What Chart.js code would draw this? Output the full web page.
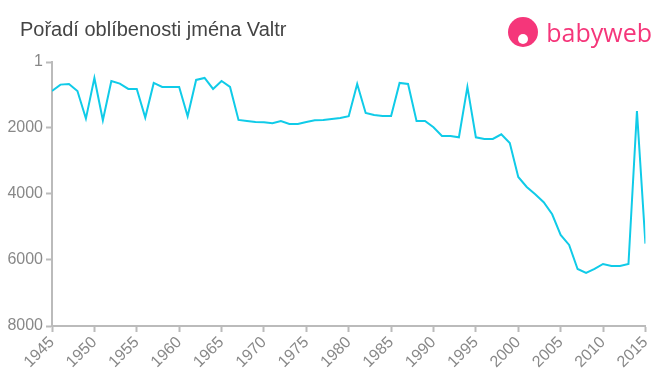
<!DOCTYPE html>
<html>
<head>
<meta charset="utf-8">
<script src="https://cdn.jsdelivr.net/npm/chart.js@4/dist/chart.umd.min.js"></script>
<style>
  body { margin: 0; background: #fff; }
  #wrap { position: relative; width: 660px; height: 375px; }
  #title { position: absolute; left: 20px; top: 18px; font: 20px "Liberation Sans", Arial, sans-serif; color: #444; }
  #logo { position: absolute; right: 8px; top: 15px; display: flex; align-items: center; color: #f5367a; font: 25px "Open Sans", "Liberation Sans", sans-serif; }
  #logo .ico { width: 30px; height: 30px; border-radius: 50%; background: #f5367a; margin-right: 8px; position: relative; }
  #logo .ico::after { content: ""; position: absolute; left: 10px; top: 17px; width: 10px; height: 10px; border-radius: 50%; background: #fff; }
</style>
</head>
<body>
<div id="wrap">
  <canvas id="myChart" width="660" height="375"></canvas>
  <div id="title">Pořadí oblíbenosti jména Valtr</div>
  <div id="logo"><span class="ico"></span>babyweb</div>
</div>
<script>
// years and rank of the name
const years = [1945, 1946, 1947, 1948, 1949, 1950, 1951, 1952, 1953, 1954,
  1955, 1956, 1957, 1958, 1959, 1960, 1961, 1962, 1963, 1964,
  1965, 1966, 1967, 1968, 1969, 1970, 1971, 1972, 1973, 1974,
  1975, 1976, 1977, 1978, 1979, 1980, 1981, 1982, 1983, 1984,
  1985, 1986, 1987, 1988, 1989, 1990, 1991, 1992, 1993, 1994,
  1995, 1996, 1997, 1998, 1999, 2000, 2001, 2002, 2003, 2004,
  2005, 2006, 2007, 2008, 2009, 2010, 2011, 2012, 2013, 2014, 2015];
const ranks = [880, 686, 665, 880, 1716, 485, 1766, 575, 655, 818,
  818, 1685, 636, 757, 757, 757, 1645, 545, 485, 818,
  575, 757, 1757, 1787, 1818, 1828, 1858, 1787, 1878, 1878,
  1818, 1767, 1757, 1727, 1696, 1645, 666, 1545, 1605, 1635,
  1635, 636, 666, 1787, 1787, 1979, 2242, 2242, 2282, 757,
  2282, 2333, 2333, 2191, 2454, 3484, 3787, 4009, 4251, 4615,
  5241, 5545, 6272, 6393, 6272, 6120, 6181, 6181, 6120, 1484, 5503];
const yTicks = [1, 2000, 4000, 6000, 8000];

const points = years.map((yr, i) => ({ x: yr, y: ranks[i] }));
const axisColor = '#bbbbbb';
const tickFont = { family: '"Liberation Sans", Arial, sans-serif', size: 16 };

const ctx = document.getElementById('myChart').getContext('2d');
let myChart = new Chart(ctx, {
  type: 'line',
  data: {
    datasets: [{
      data: points,
      borderColor: '#10cbe8',
      borderWidth: 2,
      pointRadius: 0,
      tension: 0,
      fill: false
    }]
  },
  options: {
    responsive: false,
    animation: false,
    layout: { padding: { top: 62, right: 14, left: 0, bottom: 0 } },
    plugins: { legend: { display: false }, tooltip: { enabled: false } },
    scales: {
      x: {
        type: 'linear',
        min: 1945,
        max: 2015,
        ticks: {
          stepSize: 5,
          minRotation: 45,
          maxRotation: 45,
          color: '#888',
          font: tickFont,
          padding: 1,
          callback: v => String(v)
        },
        grid: { display: true, drawOnChartArea: false, tickLength: 6, tickColor: axisColor, tickWidth: 2 },
        border: { color: axisColor, width: 2 },
        afterFit: s => { s.height = 49; }
      },
      y: {
        reverse: true,
        min: 1,
        max: 8000,
        afterBuildTicks: s => { s.ticks = yTicks.map(v => ({ value: v })); },
        ticks: { color: '#888', font: tickFont, padding: 3, callback: v => String(v) },
        grid: { display: true, drawOnChartArea: false, tickLength: 6, tickColor: axisColor, tickWidth: 2 },
        border: { color: axisColor, width: 2 },
        afterFit: s => { s.width = 52; }
      }
    }
  }
});
</script>
</body>
</html>
